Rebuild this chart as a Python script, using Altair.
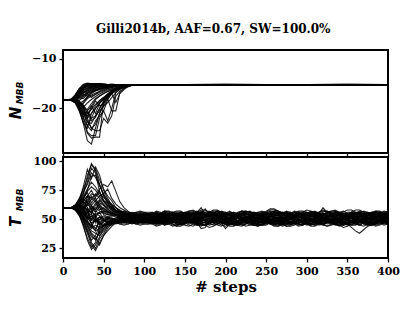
import altair as alt
import pandas as pd

title_text = "Gilli2014b, AAF=0.67, SW=100.0%"
x_ticks = [0, 50, 100, 150, 200, 250, 300, 350, 400]
N_ticks = [-10, -20]
T_ticks = [25, 50, 75, 100]

# ---- N_MBB walkers (steps 0..100 every 5, then 120,150,200,250,300,350,400)
N_steps = [0, 5, 10, 15, 20, 25, 30, 35, 40, 45, 50, 55, 60, 65, 70, 75, 80, 85, 90, 95, 100,
           120, 150, 200, 250, 300, 350, 400]
N_walkers = [
    [-18.3,-18.3,-18.2,-17.8,-16.2,-15.3,-15.0,-15.1,-15.0,-15.2,-15.1,-15.2,-15.2,-15.2,-15.2,-15.2,-15.2,-15.2,-15.2,-15.2,-15.2, -15.2,-15.2,-15.2,-15.2,-15.2,-15.2,-15.2],
    [-18.3,-18.3,-18.4,-18.9,-20.5,-23.0,-26.5,-27.2,-24.0,-21.0,-19.0,-17.5,-16.5,-16.0,-15.6,-15.4,-15.3,-15.2,-15.2,-15.2,-15.2, -15.2,-15.2,-15.1,-15.2,-15.2,-15.2,-15.2],
    [-18.3,-18.3,-18.2,-18.5,-19.5,-21.5,-24.8,-25.5,-25.5,-22.0,-20.5,-18.2,-17.0,-16.2,-15.8,-15.5,-15.3,-15.2,-15.2,-15.2,-15.2, -15.2,-15.2,-15.2,-15.2,-15.3,-15.2,-15.2],
    [-18.3,-18.3,-18.3,-17.5,-16.8,-16.0,-15.6,-15.4,-15.3,-15.3,-15.2,-15.2,-15.2,-15.2,-15.2,-15.2,-15.2,-15.2,-15.2,-15.2,-15.2, -15.2,-15.2,-15.2,-15.2,-15.2,-15.2,-15.2],
    [-18.3,-18.3,-18.1,-17.9,-18.5,-20.0,-22.5,-24.0,-24.5,-24.5,-22.0,-23.0,-21.5,-17.5,-16.5,-16.0,-15.6,-15.3,-15.2,-15.2,-15.2, -15.2,-15.2,-15.2,-15.2,-15.2,-15.1,-15.2],
    [-18.3,-18.3,-18.3,-18.6,-19.2,-19.0,-18.0,-17.5,-17.2,-16.8,-16.5,-16.0,-15.7,-15.5,-15.4,-15.3,-15.2,-15.2,-15.2,-15.2,-15.2, -15.2,-15.2,-15.2,-15.2,-15.2,-15.2,-15.2],
    [-18.3,-18.3,-18.4,-18.0,-17.0,-16.5,-16.8,-16.2,-15.8,-15.6,-15.5,-15.4,-15.3,-15.3,-15.2,-15.2,-15.2,-15.2,-15.2,-15.2,-15.2, -15.2,-15.2,-15.2,-15.2,-15.2,-15.2,-15.2],
    [-18.3,-18.3,-18.3,-18.8,-20.0,-21.8,-20.5,-19.5,-21.0,-19.0,-18.2,-17.5,-17.0,-16.5,-16.0,-15.7,-15.4,-15.3,-15.2,-15.2,-15.2, -15.2,-15.2,-15.2,-15.2,-15.2,-15.2,-15.2],
    [-18.3,-18.3,-18.2,-17.6,-16.0,-15.1,-15.0,-15.0,-15.1,-15.1,-15.2,-15.2,-15.2,-15.2,-15.2,-15.2,-15.2,-15.2,-15.2,-15.2,-15.2, -15.2,-15.2,-15.2,-15.2,-15.2,-15.2,-15.2],
    [-18.3,-18.3,-18.3,-18.2,-18.8,-20.5,-23.5,-22.0,-21.5,-20.0,-18.5,-17.5,-16.8,-16.2,-15.9,-15.6,-15.4,-15.3,-15.2,-15.2,-15.2, -15.2,-15.2,-15.2,-15.2,-15.2,-15.2,-15.2],
    [-18.3,-18.3,-18.4,-18.3,-17.5,-17.0,-16.2,-15.8,-15.5,-15.4,-15.3,-15.2,-15.2,-15.2,-15.2,-15.2,-15.2,-15.2,-15.2,-15.2,-15.2, -15.2,-15.2,-15.2,-15.2,-15.2,-15.2,-15.2],
    [-18.3,-18.3,-18.2,-18.0,-19.0,-18.5,-17.8,-17.0,-16.5,-16.2,-15.9,-15.6,-15.4,-15.3,-15.3,-15.2,-15.2,-15.2,-15.2,-15.2,-15.2, -15.2,-15.2,-15.2,-15.2,-15.2,-15.2,-15.2],
    [-18.3,-18.3,-18.3,-18.5,-20.5,-22.5,-25.0,-26.0,-25.8,-25.8,-18.5,-17.2,-16.5,-16.0,-15.7,-15.5,-15.3,-15.2,-15.2,-15.2,-15.2, -15.2,-15.2,-15.2,-15.2,-15.2,-15.2,-15.2],
    [-18.3,-18.3,-18.3,-17.8,-16.8,-15.8,-15.2,-15.0,-15.1,-15.0,-15.1,-15.2,-15.1,-15.2,-15.2,-15.2,-15.2,-15.2,-15.2,-15.2,-15.2, -15.2,-15.2,-15.2,-15.2,-15.2,-15.2,-15.2],
    [-18.3,-18.3,-18.2,-18.4,-17.6,-17.2,-17.5,-16.8,-16.4,-16.0,-15.8,-15.6,-15.4,-15.3,-15.3,-15.2,-15.2,-15.2,-15.2,-15.2,-15.2, -15.2,-15.2,-15.2,-15.2,-15.2,-15.2,-15.2],
    [-18.3,-18.3,-18.3,-18.7,-19.5,-20.8,-21.5,-20.0,-18.5,-19.5,-19.0,-17.8,-17.0,-18.8,-17.0,-16.2,-15.6,-15.3,-15.2,-15.2,-15.2, -15.2,-15.2,-15.2,-15.2,-15.2,-15.2,-15.2],
    [-18.3,-18.3,-18.1,-17.2,-16.0,-15.4,-15.2,-15.1,-15.2,-15.1,-15.2,-15.2,-15.2,-15.2,-15.2,-15.2,-15.2,-15.2,-15.2,-15.2,-15.2, -15.2,-15.2,-15.2,-15.2,-15.2,-15.2,-15.2],
    [-18.3,-18.3,-18.3,-18.5,-19.8,-22.0,-23.5,-24.5,-22.5,-21.5,-20.5,-22.5,-20.0,-16.8,-16.2,-15.8,-15.5,-15.3,-15.2,-15.2,-15.2, -15.2,-15.2,-15.2,-15.2,-15.2,-15.2,-15.2],
    [-18.3,-18.3,-18.4,-18.1,-17.0,-16.3,-16.0,-15.7,-15.5,-15.4,-15.3,-15.3,-15.2,-15.2,-15.2,-15.2,-15.2,-15.2,-15.2,-15.2,-15.2, -15.2,-15.2,-15.2,-15.2,-15.2,-15.2,-15.2],
    [-18.3,-18.3,-18.2,-18.6,-18.0,-17.5,-16.9,-16.6,-16.3,-16.0,-15.8,-15.6,-15.5,-15.4,-15.3,-15.3,-15.2,-15.2,-15.2,-15.2,-15.2, -15.2,-15.2,-15.2,-15.2,-15.2,-15.2,-15.2],
    [-18.3,-18.3,-18.3,-18.4,-19.0,-20.0,-21.8,-19.5,-18.2,-17.5,-17.0,-16.6,-16.2,-15.9,-15.7,-15.5,-15.3,-15.2,-15.2,-15.2,-15.2, -15.2,-15.2,-15.2,-15.2,-15.2,-15.2,-15.2],
    [-18.3,-18.3,-18.2,-17.9,-16.5,-15.6,-15.3,-15.2,-15.1,-15.2,-15.2,-15.2,-15.2,-15.2,-15.2,-15.2,-15.2,-15.2,-15.2,-15.2,-15.2, -15.2,-15.2,-15.2,-15.2,-15.2,-15.2,-15.2],
    [-18.3,-18.3,-18.3,-18.2,-18.5,-19.5,-22.0,-21.0,-20.0,-18.8,-18.0,-17.2,-16.6,-16.2,-15.8,-15.5,-15.3,-15.3,-15.2,-15.2,-15.2, -15.2,-15.2,-15.2,-15.2,-15.2,-15.2,-15.2],
    [-18.3,-18.3,-18.4,-18.0,-17.4,-16.6,-16.4,-16.1,-15.8,-15.6,-15.5,-15.4,-15.3,-15.2,-15.2,-15.2,-15.2,-15.2,-15.2,-15.2,-15.2, -15.2,-15.2,-15.2,-15.2,-15.2,-15.2,-15.2],
    [-18.3,-18.3,-18.3,-18.8,-19.5,-18.8,-17.6,-17.3,-16.9,-16.6,-16.3,-16.0,-15.8,-15.6,-15.4,-15.3,-15.3,-15.2,-15.2,-15.2,-15.2, -15.2,-15.2,-15.2,-15.2,-15.2,-15.2,-15.2],
    [-18.3,-18.3,-18.2,-18.3,-20.0,-23.0,-24.0,-21.0,-19.5,-18.5,-17.8,-17.0,-16.4,-16.0,-15.7,-15.5,-15.4,-15.3,-15.2,-15.2,-15.2, -15.2,-15.2,-15.2,-15.2,-15.2,-15.2,-15.2],
    [-18.3,-18.3,-18.3,-17.7,-16.6,-15.9,-15.5,-15.3,-15.2,-15.2,-15.1,-15.2,-15.2,-15.2,-15.2,-15.2,-15.2,-15.2,-15.2,-15.2,-15.2, -15.2,-15.2,-15.2,-15.2,-15.2,-15.2,-15.2],
    [-18.3,-18.3,-18.3,-18.1,-17.8,-18.0,-17.2,-16.7,-16.4,-16.1,-15.9,-15.7,-15.5,-15.4,-15.3,-15.3,-15.2,-15.2,-15.2,-15.2,-15.2, -15.2,-15.2,-15.2,-15.2,-15.2,-15.2,-15.2],
    [-18.3,-18.3,-18.2,-18.5,-18.8,-19.3,-20.5,-22.0,-20.0,-19.0,-18.0,-18.0,-20.5,-20.5,-16.8,-16.0,-15.5,-15.3,-15.2,-15.2,-15.2, -15.2,-15.2,-15.2,-15.2,-15.2,-15.2,-15.2],
    [-18.3,-18.3,-18.3,-17.9,-17.2,-16.4,-15.9,-15.6,-15.4,-15.3,-15.3,-15.2,-15.2,-15.2,-15.2,-15.2,-15.2,-15.2,-15.2,-15.2,-15.2, -15.2,-15.2,-15.2,-15.2,-15.2,-15.2,-15.2],
    [-18.3,-18.3,-18.3,-17.6,-16.4,-15.7,-15.4,-15.3,-15.2,-15.2,-15.2,-15.2,-15.2,-15.2,-15.2,-15.2,-15.2,-15.2,-15.2,-15.2,-15.2, -15.2,-15.2,-15.2,-15.2,-15.2,-15.2,-15.2],
    [-18.3,-18.3,-18.2,-18.6,-19.6,-21.0,-22.8,-23.0,-21.5,-20.5,-19.5,-18.8,-17.8,-16.8,-16.0,-15.6,-15.4,-15.3,-15.2,-15.2,-15.2, -15.2,-15.2,-15.2,-15.2,-15.2,-15.2,-15.2],
    [-18.3,-18.3,-18.4,-18.0,-17.2,-16.9,-16.5,-16.3,-16.0,-15.7,-15.5,-15.4,-15.3,-15.2,-15.2,-15.2,-15.2,-15.2,-15.2,-15.2,-15.2, -15.2,-15.2,-15.2,-15.2,-15.2,-15.2,-15.2],
    [-18.3,-18.3,-18.3,-18.7,-18.4,-17.7,-17.0,-17.8,-17.1,-16.5,-16.1,-15.8,-15.6,-15.4,-15.3,-15.2,-15.2,-15.2,-15.2,-15.2,-15.2, -15.2,-15.2,-15.2,-15.2,-15.2,-15.2,-15.2],
    [-18.3,-18.3,-18.2,-17.5,-16.1,-15.2,-14.9,-15.0,-15.1,-15.1,-15.2,-15.2,-15.2,-15.2,-15.2,-15.2,-15.2,-15.2,-15.2,-15.2,-15.2, -15.2,-15.2,-15.2,-15.2,-15.2,-15.2,-15.2],
    [-18.3,-18.3,-18.3,-18.4,-19.0,-20.0,-20.2,-19.0,-18.0,-17.5,-17.0,-16.6,-16.3,-16.0,-15.7,-15.5,-15.3,-15.2,-15.2,-15.2,-15.2, -15.2,-15.2,-15.2,-15.2,-15.2,-15.2,-15.2],
    [-18.3,-18.3,-18.3,-17.9,-16.9,-16.2,-15.8,-15.5,-15.3,-15.3,-15.2,-15.2,-15.2,-15.2,-15.2,-15.2,-15.2,-15.2,-15.2,-15.2,-15.2, -15.2,-15.2,-15.2,-15.2,-15.2,-15.2,-15.2],
    [-18.3,-18.3,-18.4,-18.8,-19.8,-21.2,-20.8,-22.5,-21.8,-20.0,-18.8,-17.6,-16.8,-16.2,-15.8,-15.5,-15.3,-15.2,-15.2,-15.2,-15.2, -15.2,-15.2,-15.2,-15.2,-15.2,-15.2,-15.2],
    [-18.3,-18.3,-18.2,-17.8,-17.4,-16.8,-16.2,-15.9,-15.6,-15.5,-15.4,-15.3,-15.2,-15.2,-15.2,-15.2,-15.2,-15.2,-15.2,-15.2,-15.2, -15.2,-15.2,-15.2,-15.2,-15.2,-15.2,-15.2],
    [-18.3,-18.3,-18.3,-18.3,-18.9,-19.8,-18.9,-18.2,-17.6,-17.1,-16.7,-16.3,-16.0,-15.8,-15.6,-15.4,-15.3,-15.2,-15.2,-15.2,-15.2, -15.2,-15.2,-15.2,-15.2,-15.2,-15.2,-15.2],
    [-18.3,-18.3,-18.2,-17.4,-16.2,-15.5,-15.2,-15.1,-15.1,-15.2,-15.2,-15.2,-15.2,-15.2,-15.2,-15.2,-15.2,-15.2,-15.2,-15.2,-15.2, -15.2,-15.2,-15.2,-15.2,-15.2,-15.2,-15.2],
    [-18.3,-18.3,-18.3,-18.5,-19.0,-19.5,-21.0,-20.2,-19.2,-18.4,-17.8,-17.2,-16.7,-16.3,-16.0,-15.7,-15.5,-15.3,-15.2,-15.2,-15.2, -15.2,-15.2,-15.2,-15.2,-15.2,-15.2,-15.2],
    [-18.3,-18.3,-18.4,-18.2,-17.8,-17.3,-16.8,-16.5,-16.2,-15.9,-15.7,-15.5,-15.4,-15.3,-15.2,-15.2,-15.2,-15.2,-15.2,-15.2,-15.2, -15.2,-15.2,-15.2,-15.2,-15.2,-15.2,-15.2],
    [-18.3,-18.3,-18.3,-18.0,-17.1,-16.0,-15.5,-15.2,-15.1,-15.1,-15.2,-15.2,-15.2,-15.2,-15.2,-15.2,-15.2,-15.2,-15.2,-15.2,-15.2, -15.2,-15.2,-15.2,-15.2,-15.2,-15.2,-15.2],
    [-18.3,-18.3,-18.3,-18.6,-19.4,-20.6,-22.0,-24.0,-23.2,-21.0,-19.5,-18.0,-17.0,-16.4,-16.0,-15.6,-15.4,-15.3,-15.2,-15.2,-15.2, -15.2,-15.2,-15.2,-15.2,-15.2,-15.2,-15.2],
]

# ---- T_MBB walkers (steps 0..400 every 5): burn-in part (0..100) + later part (105..400)
T_steps = list(range(0, 401, 5))
T_early = [
    [60,60,60,61,64,72,88,97,92,80,70,64,58,55,54,53,52,52,51,52,51],
    [60,60,60,59,55,45,32,24,28,35,42,46,48,50,49,50,51,50,49,50,50],
    [60,60,60,62,66,78,93,85,95,88,75,68,62,57,55,53,53,52,53,54,53],
    [60,60,60,58,54,48,40,30,25,33,38,44,47,49,48,49,48,49,48,47,48],
    [60,60,60,61,60,63,67,72,70,76,80,78,83,74,65,60,57,55,54,53,54],
    [60,60,60,59,57,53,45,38,35,28,36,42,46,48,47,49,48,50,49,48,49],
    [60,60,60,60,62,66,70,68,65,64,62,60,58,56,55,54,53,52,52,53,52],
    [60,60,60,61,58,55,52,50,48,50,49,50,51,50,49,50,51,50,50,51,50],
    [60,60,60,62,67,74,80,90,86,79,72,66,61,58,56,55,54,53,53,52,52],
    [60,60,60,59,56,50,44,37,32,40,45,47,49,48,50,49,50,49,50,49,50],
    [60,60,60,60,63,61,58,56,60,57,55,54,55,53,52,53,52,51,52,51,52],
    [60,60,60,61,57,52,47,42,45,43,46,48,47,49,48,49,48,49,48,49,48],
    [60,60,60,62,68,76,85,98,93,84,76,70,66,60,57,55,54,53,54,53,53],
    [60,60,60,58,53,46,38,28,23,30,36,40,44,47,48,47,48,47,48,47,47],
    [60,60,60,61,64,68,64,62,66,70,72,76,68,63,60,58,56,55,54,55,54],
    [60,60,60,60,58,54,50,53,49,52,50,51,50,51,52,51,50,51,52,51,51],
    [60,60,60,61,65,70,76,82,78,72,69,65,62,60,57,56,55,54,55,54,55],
    [60,60,60,59,55,50,42,35,33,38,42,45,47,48,47,48,49,48,47,48,48],
    [60,60,60,60,61,58,55,60,57,55,56,54,53,54,53,52,53,52,51,52,53],
    [60,60,60,61,59,56,54,52,55,53,51,52,51,50,51,50,51,50,51,50,50],
    [60,60,60,62,66,72,82,94,90,74,66,62,59,57,56,54,55,54,53,54,53],
    [60,60,60,58,54,44,34,26,30,42,45,46,47,46,47,48,47,46,47,48,47],
    [60,60,60,61,63,65,62,67,72,68,65,61,59,57,56,55,54,53,52,53,52],
    [60,60,60,59,57,52,48,44,40,42,44,46,47,48,49,48,49,48,49,48,49],
    [60,60,60,60,62,67,75,87,88,80,71,66,63,60,58,56,55,55,56,55,56],
    [60,60,60,59,56,49,40,32,36,44,48,49,48,49,50,49,48,49,50,49,49],
    [60,60,60,61,62,60,58,56,54,56,57,56,55,54,53,54,53,52,53,52,51],
    [60,60,60,60,57,54,51,47,49,47,49,48,49,50,49,50,49,50,49,50,49],
    [60,60,60,62,65,69,74,78,75,70,66,64,60,58,57,55,54,54,53,54,55],
    [60,60,60,59,56,51,46,40,38,36,40,44,46,47,46,47,46,47,46,47,46],
    [60,60,60,60,62,58,64,70,66,60,57,55,54,53,52,51,52,51,50,51,52],
    [60,60,60,61,57,50,53,46,42,48,50,47,49,48,50,51,49,48,49,50,49],
    [60,60,60,59,61,66,60,55,62,67,63,59,56,54,53,52,53,54,53,52,53],
    [60,60,60,60,56,60,52,58,51,45,48,52,50,49,48,47,48,47,46,47,48],
    [60,60,60,62,64,57,70,75,68,62,58,56,55,54,55,53,54,53,52,51,51],
    [60,60,60,59,58,62,48,43,52,56,50,46,48,49,50,49,48,49,50,51,50],
    [60,60,60,61,63,59,66,58,64,58,60,57,56,55,54,55,54,55,54,53,54],
    [60,60,60,60,59,55,57,50,54,47,44,46,45,47,46,45,46,47,46,45,46],
    [60,60,60,61,60,64,56,62,58,66,62,58,57,56,55,56,55,56,55,56,55],
    [60,60,60,59,58,54,60,45,40,50,53,51,49,50,51,50,49,50,51,50,51],
    [60,60,60,60,63,68,73,64,69,74,66,62,60,58,56,57,56,55,56,57,56],
    [60,60,60,61,57,52,56,49,53,38,44,48,46,47,48,47,48,47,48,47,47],
    [60,60,60,60,61,57,63,59,56,61,54,52,53,52,51,52,51,52,53,52,51],
    [60,60,60,59,60,56,51,55,47,52,49,51,50,49,50,49,50,49,50,49,50],
    [60,60,60,61,62,65,70,61,58,63,59,57,55,54,53,54,53,54,53,54,53],
    [60,60,60,60,58,55,49,44,50,46,48,50,48,49,48,49,48,49,48,49,48],
]
T_late = [
    [51,53,52,54,52,50,51,53,55,53, 52,50,49,51,53,52,54,53,51,50, 52,54,53,51,52,50,49,51,53,52, 54,55,53,52,50,51,53,52,51,49, 50,52,53,55,54,52,51,50,52,53, 51,52,54,53,51,50,52,53,52,51],
    [50,49,48,50,51,49,47,48,50,51, 49,48,47,49,50,48,49,51,50,48, 47,46,48,49,47,48,50,49,48,47, 49,50,48,47,49,48,46,47,49,50, 48,47,49,50,48,49,47,48,50,49, 48,46,45,47,48,49,50,48,47,49],
    [53,54,55,53,56,55,54,53,55,56, 54,53,55,57,56,54,53,55,54,56, 55,54,53,55,56,54,53,54,55,53, 54,56,55,53,54,55,56,54,53,55, 54,53,55,56,57,55,54,53,55,54, 56,55,54,53,55,56,54,55,53,54],
    [48,47,46,48,45,47,48,46,45,47, 48,46,45,44,46,47,48,46,47,42, 46,48,47,45,46,47,45,44,46,48, 47,46,45,47,48,46,47,45,46,47, 48,47,45,46,47,48,46,45,47,46, 45,47,48,46,45,47,46,48,47,46],
    [54,53,55,54,52,53,55,54,53,52, 54,55,56,54,53,55,54,52,53,54, 55,53,52,54,55,53,54,56,55,53, 52,54,53,55,54,52,53,55,54,53, 52,54,55,53,54,52,53,54,55,53, 54,52,53,55,54,53,52,54,53,55],
    [49,50,48,47,49,51,50,48,49,50, 51,49,48,50,49,47,48,50,51,49, 50,48,49,51,50,48,47,49,50,48, 49,51,50,49,48,50,49,47,48,50, 49,48,50,51,49,48,50,49,48,47, 49,50,48,49,51,50,49,48,50,49],
    [52,51,53,52,50,51,52,54,53,51, 52,53,51,50,52,54,53,52,51,53, 52,51,53,54,52,51,50,52,53,51, 52,54,53,51,52,50,51,53,52,54, 53,51,52,50,51,53,52,51,53,52, 51,50,52,53,51,52,54,53,51,52],
    [50,51,49,50,52,51,50,49,51,50, 49,51,52,50,49,48,50,51,49,50, 52,51,49,50,51,50,52,51,50,49, 50,51,49,48,50,51,52,50,49,51, 50,49,51,52,50,49,50,51,50,52, 51,49,50,51,50,49,51,50,52,51],
    [52,53,54,55,53,54,56,55,54,53, 55,54,53,55,56,57,55,54,53,54, 56,55,54,53,55,54,56,55,53,54, 55,53,54,56,55,54,53,55,54,56, 55,54,53,54,56,57,58,56,55,54, 53,55,56,54,53,55,54,56,55,54],
    [49,48,50,49,47,48,50,51,49,48, 47,49,50,48,47,46,48,49,50,48, 49,47,48,50,49,48,46,47,49,50, 48,47,49,48,46,47,48,50,49,47, 48,49,47,46,48,49,50,48,47,49, 48,47,49,50,48,47,46,48,49,48],
    [52,51,50,52,53,51,52,50,51,53, 52,50,51,52,53,51,50,52,51,53, 54,52,51,50,52,53,51,52,50,51, 53,52,51,52,50,51,53,52,51,52, 50,52,53,51,52,50,51,52,53,51, 52,51,53,52,51,50,52,51,53,52],
    [48,49,47,46,48,49,47,48,46,47, 48,49,47,46,45,47,48,49,47,48, 46,45,47,48,49,47,46,48,47,49, 48,47,46,48,49,47,48,46,45,47, 48,49,47,48,46,47,49,48,47,46, 47,48,49,47,46,48,47,49,48,47],
    [54,53,52,54,55,53,54,52,53,55, 54,53,55,56,54,53,55,54,52,53, 54,55,53,54,56,55,53,54,55,54, 53,55,54,56,55,53,54,55,53,54, 56,55,54,53,55,54,56,55,54,53, 55,54,53,55,56,54,55,53,54,55],
    [47,46,48,47,45,46,48,47,46,45, 44,46,47,42,43,48,47,45,44,46, 47,46,45,47,48,46,45,44,46,47, 46,45,47,46,44,45,47,46,48,47, 45,46,47,45,44,46,47,48,46,45, 46,47,45,44,46,47,45,46,47,48],
    [54,55,53,54,56,55,54,53,55,54, 56,55,54,55,59,54,56,55,54,53, 55,54,56,57,55,54,53,55,54,56, 55,53,54,55,56,54,53,55,54,55, 56,55,53,54,55,56,54,55,53,54, 55,56,54,53,55,54,56,55,54,53],
    [51,50,52,51,49,50,52,51,50,52, 51,50,49,51,52,50,51,50,52,51, 50,49,51,52,50,51,50,49,51,52, 50,51,52,50,49,51,50,52,51,50, 49,51,52,50,51,50,49,51,52,50, 51,50,52,51,49,50,51,52,50,51],
    [55,54,56,55,57,56,54,55,56,55, 57,58,56,60,54,56,55,57,56,55, 54,56,55,57,56,54,55,56,57,55, 54,55,56,55,57,56,54,55,56,55, 57,56,55,60,56,55,57,56,55,54, 56,55,57,56,55,54,56,55,57,56],
    [48,47,49,48,46,47,49,48,47,46, 48,49,47,46,48,47,45,46,48,47, 49,48,46,47,48,49,47,46,48,47, 46,48,47,49,48,46,47,48,47,45, 46,48,47,46,48,49,47,48,46,47, 48,47,46,48,49,47,48,46,47,48],
    [53,52,54,53,51,52,54,53,52,51, 53,54,52,51,53,52,54,53,52,54, 53,51,52,54,53,52,51,53,54,52, 53,52,51,53,54,52,53,52,51,53, 54,53,52,51,53,52,54,53,52,51, 53,52,54,53,52,51,53,54,52,53],
    [50,49,51,50,48,49,51,50,49,48, 50,51,49,48,50,49,51,50,48,49, 50,51,49,50,48,49,50,51,49,50, 48,49,51,50,49,48,50,49,51,50, 49,50,48,49,51,50,49,48,50,49, 51,50,49,48,50,51,49,50,48,49],
    [53,54,52,53,55,54,53,52,54,53, 55,54,52,53,54,53,55,54,53,52, 54,53,55,54,52,53,54,55,53,54, 52,53,55,54,53,52,54,53,55,54, 53,52,54,55,53,54,52,53,54,55, 53,54,52,53,55,54,53,52,54,53],
    [47,48,46,47,49,48,46,45,47,48, 46,47,48,46,45,47,48,49,47,46, 45,46,48,47,46,48,47,45,46,47, 48,46,47,45,46,48,47,46,45,47, 48,47,46,45,47,48,46,47,48,46, 47,46,45,47,48,46,47,48,46,47],
    [52,53,51,52,54,53,52,51,53,52, 54,53,51,52,53,54,52,51,53,52, 51,53,54,52,51,53,52,54,53,51, 52,53,51,52,54,53,52,51,53,54, 52,53,51,52,53,54,52,53,51,52, 53,54,52,51,53,52,54,53,51,52],
    [49,48,50,49,47,48,50,49,48,50, 49,47,48,49,50,48,47,49,48,50, 49,48,47,49,50,48,49,47,48,49, 50,48,49,47,48,50,49,48,47,49, 48,50,49,47,48,49,50,48,49,47, 48,49,50,48,47,49,48,50,49,48],
    [55,56,54,55,57,56,55,54,56,55, 54,56,57,55,54,56,55,57,56,54, 55,56,54,55,57,56,55,54,56,55, 57,56,54,55,56,55,57,56,54,55, 56,57,55,54,56,55,54,56,57,55, 56,54,55,57,56,55,54,56,55,57],
    [49,50,48,49,51,50,48,47,49,50, 48,49,50,48,47,49,50,48,49,51, 50,48,49,47,48,50,49,48,50,49, 47,48,50,49,48,47,49,50,48,49, 50,48,47,49,50,48,49,47,48,50, 49,48,50,49,47,48,49,50,48,49],
    [51,52,50,51,53,52,51,50,52,51, 53,52,50,51,52,53,51,50,52,51, 50,52,53,51,50,52,51,53,52,50, 51,52,50,51,53,52,50,51,52,53, 51,50,52,51,53,52,51,50,52,51, 53,52,50,51,52,50,51,53,52,51],
    [49,50,51,49,50,48,49,51,50,49, 48,50,49,51,50,48,49,50,51,49, 48,50,49,51,50,49,48,50,49,51, 50,49,48,50,51,49,50,48,49,50, 51,49,50,48,49,50,51,49,48,50, 49,51,50,49,48,50,49,51,50,49],
    [55,54,56,55,53,54,56,55,54,56, 55,53,54,56,55,54,53,55,56,54, 55,56,54,53,55,54,56,55,53,54, 56,55,54,53,55,56,54,55,53,54, 55,56,54,55,53,54,56,55,54,53, 55,54,56,55,53,54,55,56,54,55],
    [46,47,45,46,48,47,45,44,46,47, 45,44,46,47,45,46,48,47,45,44, 46,47,45,46,44,45,47,46,45,46, 47,45,44,46,47,45,46,44,45,47, 46,45,47,46,44,45,46,47,45,46, 43,40,38,41,44,45,46,47,45,46],
    [51,51,53,53,52,50,50,52,54,54, 53,51,51,50,52,52,54,53,53,51, 50,50,52,53,51,51,53,55,55,53, 52,52,50,51,53,53,52,50,50,52, 54,54,53,51,52,52,50,49,51,53, 53,52,50,50,51,53,52,52,54,53],
    [49,47,47,48,50,50,48,46,46,48, 49,49,47,45,45,47,49,48,48,46, 44,44,46,48,48,47,45,45,47,49, 48,46,46,44,45,47,47,49,48,46, 46,45,47,49,49,47,46,46,48,47, 45,45,47,48,46,46,44,45,47,48],
    [53,55,55,54,52,52,54,56,56,55, 53,53,55,56,54,54,52,53,55,55, 57,55,55,53,54,56,56,54,53,53, 55,57,57,55,54,54,56,55,53,53, 54,56,56,58,56,55,55,53,54,56, 56,54,53,53,55,56,56,54,55,57],
    [47,47,49,48,46,46,48,50,50,49, 47,47,45,46,48,48,50,49,47,47, 46,48,48,50,49,49,47,45,45,47, 49,49,48,46,46,48,49,49,47,46, 46,48,50,50,48,47,47,45,46,48, 48,50,49,47,47,46,48,48,50,49],
    [52,52,50,51,53,53,55,54,52,52, 50,49,49,51,53,53,52,50,50,52, 54,54,52,51,51,53,54,54,52,50, 50,51,53,53,55,53,53,51,52,54, 54,52,50,50,52,53,53,51,50,50, 52,54,54,53,51,51,53,52,52,50],
    [50,50,48,49,51,51,50,48,48,50, 52,52,50,49,49,51,50,50,48,47, 47,49,51,51,50,48,48,49,51,51, 49,48,48,50,52,52,50,49,49,48, 50,50,52,51,49,49,47,48,50,50, 51,49,49,48,50,50,52,51,49,49],
    [54,54,52,53,55,55,53,52,52,54, 56,56,54,53,53,55,57,57,55,54, 54,52,53,55,55,54,52,52,53,55, 55,57,56,54,54,52,53,55,55,56, 54,54,52,51,53,55,55,54,52,52, 54,56,56,55,53,53,55,54,54,52],
    [46,46,44,45,47,47,46,44,44,46, 48,48,46,45,45,43,44,46,46,48, 47,45,45,44,46,48,48,46,45,45, 47,48,48,46,44,44,45,47,47,46, 44,44,46,48,48,47,45,45,43,44, 46,46,48,47,45,45,46,48,48,46],
    [55,55,57,56,54,54,56,57,57,55, 54,54,56,58,58,56,55,55,57,56, 54,54,55,57,57,56,54,54,56,57, 59,59,57,56,56,54,55,57,57,56, 54,54,56,57,57,55,54,54,56,58, 58,56,55,55,54,56,57,57,55,54],
    [50,50,52,51,49,49,51,52,52,50, 49,49,51,52,52,50,48,48,50,51, 51,53,52,50,50,49,51,52,52,50, 48,48,50,51,51,53,52,50,50,49, 51,51,53,52,50,50,48,49,51,51, 50,48,48,50,52,52,51,49,49,51],
    [56,56,54,55,57,57,56,54,54,56, 57,57,55,54,54,56,58,58,56,55, 55,53,54,56,56,57,55,55,54,56, 58,58,57,55,55,53,54,56,56,58, 57,55,55,54,56,57,57,55,54,54, 56,58,58,56,55,55,57,56,56,54],
    [47,47,49,48,46,46,44,45,47,47, 49,48,46,46,45,47,49,49,47,46, 46,48,49,49,47,45,45,46,48,48, 46,44,44,46,47,47,49,48,46,46, 45,47,49,49,48,46,46,44,45,47, 47,49,48,46,46,45,47,48,48,46],
    [51,51,53,52,50,50,52,53,53,51, 50,50,52,54,54,52,51,51,53,52, 50,50,51,53,53,52,50,50,52,53, 53,51,50,50,52,54,54,53,51,51, 52,54,54,52,51,51,49,50,52,52, 54,53,51,51,50,52,53,53,51,50],
    [49,49,51,50,48,48,50,51,51,49, 48,48,50,51,51,49,47,47,49,50, 50,52,51,49,49,48,50,51,51,49, 47,47,49,50,50,52,51,49,49,48, 50,50,52,51,49,49,47,48,50,50, 49,47,47,49,51,51,50,48,48,50],
    [53,53,51,52,54,54,53,51,51,53, 55,55,53,52,52,54,56,56,54,53, 53,51,52,54,54,53,51,51,52,54, 54,56,55,53,53,51,52,54,54,55, 53,53,51,50,52,54,54,53,51,51, 53,55,55,54,52,52,54,53,53,51],
    [48,48,46,47,49,49,48,46,46,48, 50,50,48,47,47,45,46,48,48,50, 49,47,47,46,48,50,50,48,47,47, 49,50,50,48,46,46,47,49,49,48, 46,46,48,50,50,49,47,47,45,46, 48,48,50,49,47,47,48,50,50,48],
]

# ---- build tidy tables
rows_n = []
for w, vals in enumerate(N_walkers):
    for s, v in zip(N_steps, vals):
        rows_n.append({"walker": w, "step": s, "value": v})
df_n = pd.DataFrame(rows_n)

rows_t = []
for w in range(len(T_early)):
    vals = T_early[w] + T_late[w]
    for s, v in zip(T_steps, vals):
        rows_t.append({"walker": w, "step": s, "value": v})
df_t = pd.DataFrame(rows_t)

W = 325
SERIF = "DejaVu Serif"


def panel(df, domain, yticks, height, sym, show_x, lab_y, sub_y):
    if show_x:
        xaxis = alt.Axis(values=x_ticks, title="# steps", labels=True, grid=False,
                         labelFlush=False, titleFont=SERIF, titleFontSize=15,
                         titleFontWeight="bold", titlePadding=3, labelPadding=3)
    else:
        xaxis = alt.Axis(values=x_ticks, title=None, labels=False, grid=False)
    lines = alt.Chart(df).mark_line(
        color="black", strokeWidth=1.1, opacity=0.85, clip=True
    ).encode(
        x=alt.X("step:Q", scale=alt.Scale(domain=[0, 400], nice=False, zero=False), axis=xaxis),
        y=alt.Y("value:Q", scale=alt.Scale(domain=domain, nice=False, zero=False),
                axis=alt.Axis(values=yticks, title=None, grid=False, labelPadding=3,
                              labelFlush=False)),
        detail="walker:N",
        order="step:Q",
    )
    big = alt.Chart(pd.DataFrame({"t": [sym]})).mark_text(
        angle=270, font="DejaVu Sans", fontStyle="italic", fontWeight="bold",
        fontSize=15, align="center", baseline="middle", color="black"
    ).encode(x=alt.value(-47), y=alt.value(lab_y), text="t:N")
    sub = alt.Chart(pd.DataFrame({"t": ["MBB"]})).mark_text(
        angle=270, font="DejaVu Sans", fontStyle="italic", fontWeight="bold",
        fontSize=9, align="center", baseline="middle", color="black"
    ).encode(x=alt.value(-43), y=alt.value(sub_y), text="t:N")
    return alt.layer(lines, big, sub).properties(width=W, height=height)


top = panel(df_n, [-29.0, -8.2], N_ticks, 103, "N", False, 63, 43)
bottom = panel(df_t, [16.7, 103.6], T_ticks, 101, "T", True, 65, 43)

chart = alt.vconcat(top, bottom, spacing=4, bounds="flush").properties(
    title=alt.TitleParams(title_text, font=SERIF, fontSize=12, fontWeight="bold",
                          anchor="middle", offset=13, dx=9),
    padding={"left": 0, "top": 15, "right": 5, "bottom": 5},
).configure_view(
    stroke="black", strokeWidth=2
).configure_axis(
    domain=False, tickColor="black", tickWidth=1.3, tickSize=4,
    labelFont=SERIF, labelFontWeight="bold", labelFontSize=11, labelColor="black",
    titleColor="black"
).configure_title(color="black")

chart.save("out.html", embed_options={"renderer": "svg", "actions": False})
